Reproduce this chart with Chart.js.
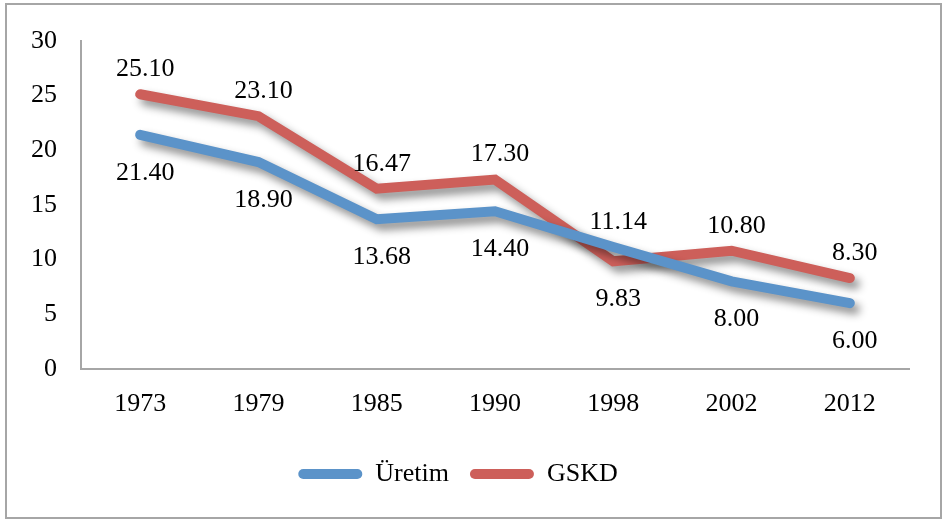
<!DOCTYPE html>
<html>
<head>
<meta charset="utf-8">
<script src="https://cdn.jsdelivr.net/npm/chart.js@4/dist/chart.umd.min.js"></script>
<style>
  body { margin: 0; background: #fff; }
  #box { position: absolute; left: 5px; top: 3px; width: 933px; height: 512px; border: 2px solid #a6a6a6; }
  canvas { display: block; }
</style>
</head>
<body>
<div id="box"><canvas id="chart" width="933" height="512"></canvas></div>
<script>
const years = ['1973', '1979', '1985', '1990', '1998', '2002', '2012'];
const uretim = [21.40, 18.90, 13.68, 14.40, 11.14, 8.00, 6.00];
const gskd = [25.10, 23.10, 16.47, 17.30, 9.83, 10.80, 8.30];
// where each value label sits relative to its point
const uretimSide = ['below', 'below', 'below', 'below', 'above', 'below', 'below'];
const gskdSide = ['above', 'above', 'above', 'above', 'below', 'above', 'above'];

const blue = '#5b93c9';
const red = '#cd5f5a';
const serif = '"Liberation Serif", "Times New Roman", serif';

// soft drop shadow behind the thick lines
const shadowPlugin = {
  id: 'lineShadow',
  beforeDatasetDraw(chart) {
    const ctx = chart.ctx;
    ctx.save();
    ctx.shadowColor = 'rgba(0,0,0,0.45)';
    ctx.shadowBlur = 9;
    ctx.shadowOffsetX = 5;
    ctx.shadowOffsetY = 6;
  },
  afterDatasetDraw(chart) {
    chart.ctx.restore();
  }
};

const labelPlugin = {
  id: 'valueLabels',
  afterDatasetsDraw(chart) {
    const ctx = chart.ctx;
    ctx.save();
    ctx.font = '26px ' + serif;
    ctx.fillStyle = '#000';
    ctx.textAlign = 'center';
    ctx.textBaseline = 'middle';
    chart.data.datasets.forEach((ds, i) => {
      const meta = chart.getDatasetMeta(i);
      meta.data.forEach((pt, j) => {
        const dy = ds.sides[j] === 'above' ? -25 : 38;
        ctx.fillText(ds.data[j].toFixed(2), pt.x + 5, pt.y + dy);
      });
    });
    ctx.restore();
  }
};

new Chart(document.getElementById('chart'), {
  type: 'line',
  data: {
    labels: years,
    datasets: [
      {
        label: 'Üretim',
        data: uretim,
        sides: uretimSide,
        borderColor: blue,
        backgroundColor: blue,
        borderWidth: 10,
        borderCapStyle: 'round',
        borderJoinStyle: 'miter',
        pointRadius: 0,
        tension: 0
      },
      {
        label: 'GSKD',
        data: gskd,
        sides: gskdSide,
        borderColor: red,
        backgroundColor: red,
        borderWidth: 10,
        borderCapStyle: 'round',
        borderJoinStyle: 'miter',
        pointRadius: 0,
        tension: 0
      }
    ]
  },
  options: {
    responsive: false,
    animation: false,
    layout: { padding: { left: 0, right: 31, top: 12, bottom: 20 } },
    scales: {
      x: {
        offset: true,
        grid: { display: false, drawTicks: false, offset: true },
        border: { color: '#a6a6a6', width: 2 },
        ticks: { color: '#000', font: { family: serif, size: 26 }, padding: 20 }
      },
      y: {
        min: 0,
        max: 30,
        grid: { display: false, drawTicks: false },
        border: { color: '#a6a6a6', width: 2 },
        ticks: { stepSize: 5, color: '#000', font: { family: serif, size: 26, lineHeight: 0.9 }, padding: 24 }
      }
    },
    plugins: {
      legend: {
        position: 'bottom',
        labels: {
          color: '#000',
          font: { family: serif, size: 26 },
          boxWidth: 64,
          boxHeight: 10,
          useBorderRadius: true,
          borderRadius: 5,
          padding: 21,
          generateLabels(chart) {
            return Chart.defaults.plugins.legend.labels.generateLabels(chart)
              .map(item => Object.assign(item, { lineWidth: 0 }));
          }
        }
      },
      tooltip: { enabled: false }
    }
  },
  plugins: [shadowPlugin, labelPlugin]
});
</script>
</body>
</html>
